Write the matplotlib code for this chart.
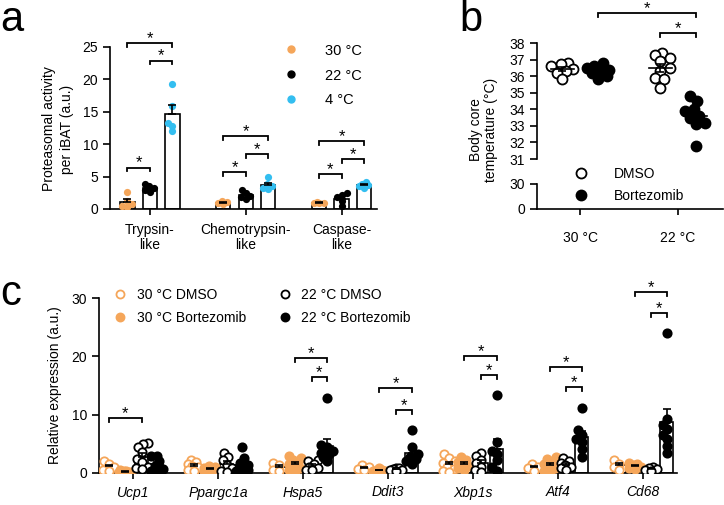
import matplotlib.pyplot as plt
import numpy as np
from matplotlib.lines import Line2D

plt.rcParams['font.family'] = ['Liberation Sans', 'DejaVu Sans']
plt.rcParams['font.size'] = 10
plt.rcParams['axes.linewidth'] = 1.2
plt.rcParams['xtick.major.width'] = 1.2
plt.rcParams['ytick.major.width'] = 1.2
plt.rcParams['xtick.major.size'] = 4
plt.rcParams['ytick.major.size'] = 5

ORANGE = '#F5A65A'
BLUE = '#33BEF0'

# panel a - proteasomal activity per iBAT
assays = ['Trypsin-\nlike', 'Chemotrypsin-\nlike', 'Caspase-\nlike']
temps_a = ['30 °C', '22 °C', '4 °C']
act_30 = [[2.6, 1.3, 0.8, 0.5, 0.3], [1.3, 1.1, 0.9, 0.7], [1.1, 1.0, 0.9, 0.9]]
act_22 = [[3.8, 3.5, 3.2, 2.9, 2.7], [2.9, 2.4, 2.0, 1.8, 1.5], [2.4, 2.1, 1.8, 1.3, 0.5]]
act_4 = [[19.3, 15.9, 13.3, 12.8, 12.0], [4.9, 3.8, 3.5, 3.3, 3.1], [4.1, 3.9, 3.7, 3.5, 3.3]]
# (assay, group i, group j, bracket height)
sig_a = [(0, 0, 2, 25.6), (0, 1, 2, 22.9), (0, 0, 1, 6.4),
         (1, 0, 2, 11.3), (1, 1, 2, 8.5), (1, 0, 1, 5.7),
         (2, 0, 2, 10.5), (2, 1, 2, 7.7), (2, 0, 1, 5.4)]

# panel b - body core temperature
temps_b = ['30 °C', '22 °C']
treat_b = ['DMSO', 'Bortezomib']
temp_dmso = [[36.8, 36.75, 36.6, 36.45, 36.3, 36.2, 35.8],
             [37.4, 37.3, 37.1, 36.9, 36.5, 36.3, 35.9, 35.8, 35.3]]
temp_btz = [[36.8, 36.6, 36.5, 36.4, 36.3, 36.2, 36.0, 35.8],
            [34.8, 34.5, 34.0, 33.9, 33.6, 33.5, 33.2, 33.1, 31.8]]
# (temp i, treat i), (temp j, treat j), height
sig_b = [((0, 1), (1, 1), 39.8), ((1, 0), (1, 1), 38.6)]

# panel c - relative expression
genes = ['Ucp1', 'Ppargc1a', 'Hspa5', 'Ddit3', 'Xbp1s', 'Atf4', 'Cd68']
groups_c = ['30 °C DMSO', '30 °C Bortezomib', '22 °C DMSO', '22 °C Bortezomib']
c_30_dmso = [[2.1, 1.5, 1.0, 0.6, 0.4],
             [2.2, 1.9, 1.6, 1.2, 1.0, 0.6, 0.3],
             [1.7, 1.4, 0.6, 0.4],
             [1.3, 1.0, 0.7, 0.5],
             [3.2, 2.6, 2.1, 1.7, 1.3, 1.0, 0.7, 0.4, 0.2],
             [1.5, 1.1, 0.8, 0.4],
             [2.2, 1.6, 1.0, 0.5]]
c_30_btz = [[0.5, 0.4, 0.3, 0.2, 0.15, 0.1, 0.1, 0.05],
            [1.2, 1.0, 0.9, 0.8, 0.7, 0.5, 0.4, 0.3],
            [2.9, 2.6, 2.2, 1.9, 1.5, 1.2, 0.9, 0.6, 0.3],
            [0.8, 0.6, 0.5, 0.4, 0.3, 0.2],
            [2.7, 2.3, 1.9, 1.5, 1.2, 0.8, 0.5],
            [2.8, 2.4, 2.0, 1.6, 1.2, 0.8, 0.4, 0.2],
            [1.8, 1.5, 1.3, 1.1, 0.9, 0.7]]
c_22_dmso = [[5.2, 4.9, 4.4, 3.6, 2.4, 1.9, 1.0, 0.8, 0.7],
             [3.5, 2.8, 2.2, 1.4, 0.8, 0.4, 0.2],
             [2.2, 2.0, 1.6, 1.0, 0.8, 0.6, 0.5],
             [0.9, 0.8, 0.7, 0.6, 0.5, 0.4],
             [3.5, 2.9, 2.3, 1.7, 1.1, 0.5, 0.1],
             [2.5, 2.1, 1.7, 1.4, 1.1, 0.8, 0.5],
             [1.1, 0.9, 0.7, 0.5, 0.3]]
c_22_btz = [[3.0, 2.9, 2.0, 1.2, 0.7, 0.4, 0.3],
            [4.5, 2.5, 1.8, 1.3, 1.0, 0.8, 0.5, 0.3, 0.2],
            [12.9, 4.8, 4.4, 3.8, 3.5, 3.2, 2.8, 2.0],
            [7.4, 4.4, 3.2, 2.8, 2.4, 2.0, 1.6],
            [13.4, 5.3, 3.7, 3.2, 2.2, 1.0, 0.4],
            [11.1, 7.3, 6.5, 5.8, 5.4, 4.2, 2.8],
            [24.0, 9.3, 8.3, 7.5, 6.6, 5.8, 4.7, 3.5]]
# (gene, group i, group j, height)
sig_c = [(0, 0, 2, 9.4), (2, 1, 3, 19.7), (2, 2, 3, 16.5),
         (3, 1, 3, 14.6), (3, 2, 3, 10.8), (4, 1, 3, 20.1), (4, 2, 3, 16.8),
         (5, 1, 3, 18.2), (5, 2, 3, 14.7), (6, 1, 3, 31.0), (6, 2, 3, 27.4)]

W, H = 724, 505
fig = plt.figure(figsize=(W / 100, H / 100), dpi=100)


def box(x0, y0, x1, y1):
    # axes from pixel corners (top-left origin)
    return fig.add_axes([x0 / W, 1 - y1 / H, (x1 - x0) / W, (y1 - y0) / H])


def sem(v):
    v = np.asarray(v, float)
    return v.std(ddof=1) / np.sqrt(len(v))


def swarm(ax, xc, vals, diam, maxw, squeeze=0.8):
    # small beeswarm, points kept within +-maxw pixels of the centre
    vals = np.asarray(vals, float)
    pts = ax.transData.transform(np.column_stack([np.full(len(vals), xc), vals]))
    d = diam * squeeze
    cand = np.linspace(-maxw, maxw, 13)
    cand = cand[np.argsort(np.abs(cand), kind='stable')]
    placed = []
    xs = np.empty(len(vals))
    for i in np.argsort(pts[:, 1]):
        y = pts[i, 1]
        best, best_d = 0.0, -1
        for dx in cand:
            md = min([np.hypot(dx - px, y - py) for px, py in placed] or [1e9])
            if md >= d:
                best = dx
                break
            if md > best_d:
                best, best_d = dx, md
        placed.append((best, y))
        xs[i] = pts[i, 0] + best
    return ax.transData.inverted().transform(np.column_stack([xs, pts[:, 1]]))[:, 0]


def bracket(ax, x0, x1, y, drop):
    ax.plot([x0, x0, x1, x1], [y - drop, y, y, y - drop], color='k', lw=1.3,
            clip_on=False, solid_joinstyle='miter')
    ax.text((x0 + x1) / 2, y, '*', ha='center', va='baseline', fontsize=12, clip_on=False)


def upper_err(ax, x, v, cap=3):
    ax.errorbar(x, np.mean(v), yerr=[[0], [sem(v)]], color='k', lw=1.2,
                capsize=cap, capthick=1.2, zorder=4)


# ---------------- panel a ----------------
ax = box(110, 47, 377, 209)
ax.set_xlim(-0.417, 2.37)
ax.set_ylim(0, 25)
off_a = [-0.235, 0, 0.235]
cols_a = [ORANGE, 'k', BLUE]
for k, data in enumerate([act_30, act_22, act_4]):
    for g in range(3):
        x = g + off_a[k]
        ax.bar(x, np.mean(data[g]), 0.15, color='white', edgecolor='k', lw=1.2, zorder=2)
        xs = swarm(ax, x, data[g], 7, 5, 0.7)
        ax.scatter(xs, data[g], s=27, color=cols_a[k], lw=0, zorder=3)
        upper_err(ax, x, data[g])
for g, i, j, h in sig_a:
    bracket(ax, g + off_a[i], g + off_a[j], h, 0.6)
ax.spines[['top', 'right']].set_visible(False)
ax.set_yticks([0, 5, 10, 15, 20, 25])
ax.set_xticks([0, 1, 2])
ax.set_xticklabels(assays, linespacing=1.1)
ax.tick_params(axis='x', pad=6)
fig.text(58 / W, 1 - 129 / H, 'Proteasomal activity\nper iBAT (a.u.)', rotation=90,
         ha='center', va='center', linespacing=1.3)
h_a = [Line2D([], [], ls='none', marker='o', ms=5, mfc=c, mec=c) for c in cols_a]
fig.legend(h_a, temps_a, loc='center left', bbox_to_anchor=(276 / W, 1 - 75.5 / H),
           frameon=False, borderpad=0, borderaxespad=0, handlelength=2,
           handletextpad=1.35, labelspacing=0.75, fontsize=10.5)

# ---------------- panel b ----------------
axt = box(537, 43, 723, 159)
axb = box(537, 184, 723, 209)
for a in (axt, axb):
    a.set_xlim(-0.44, 1.46)
axt.set_ylim(31, 38)
axb.set_ylim(0, 30)
off_b = [-0.18, 0.18]
for t in range(2):
    for k, data in enumerate([temp_dmso, temp_btz]):
        x = t + off_b[k]
        v = data[t]
        xs = swarm(axt, x, v, 10, 11, 0.85)
        face = 'white' if k == 0 else 'k'
        axt.scatter(xs, v, s=52, facecolor=face, edgecolor='k', lw=1.3, zorder=3)
        m = np.mean(v)
        axt.plot([x - 0.12, x + 0.12], [m, m], color='k', lw=1.2, zorder=4)
        axt.errorbar(x, m, yerr=sem(v), color='k', lw=1.2, capsize=3, capthick=1.2, zorder=4)
for (t0, k0), (t1, k1), h in sig_b:
    bracket(axt, t0 + off_b[k0], t1 + off_b[k1], h, 0.25)
axt.spines[['top', 'right', 'bottom']].set_visible(False)
axt.set_xticks([])
axt.set_yticks(range(31, 39))
axb.spines[['top', 'right']].set_visible(False)
axb.set_yticks([0, 30])
axb.set_xticks([0, 1])
axb.set_xticklabels(temps_b)
axb.tick_params(axis='x', pad=12)
fig.text(483.5 / W, 1 - 130 / H, 'Body core\ntemperature (°C)', rotation=90,
         ha='center', va='center', linespacing=1.05)
h_b = [Line2D([], [], ls='none', marker='o', ms=7.2, mfc=f, mec='k', mew=1.3)
       for f in ('white', 'k')]
fig.legend(h_b, treat_b, loc='center left', bbox_to_anchor=(567 / W, 1 - 185 / H),
           frameon=False, borderpad=0, borderaxespad=0, handlelength=2,
           handletextpad=1.4, labelspacing=0.6)

# ---------------- panel c ----------------
axc = box(99, 298, 677, 473)
axc.set_xlim(-0.4, 6.4)
axc.set_ylim(0, 30)
off_c = [-0.28, -0.1, 0.1, 0.28]
col_c = [ORANGE, ORANGE, 'k', 'k']
filled_c = [False, True, False, True]
for k, data in enumerate([c_30_dmso, c_30_btz, c_22_dmso, c_22_btz]):
    for g in range(len(genes)):
        x = g + off_c[k]
        v = data[g]
        axc.bar(x, np.mean(v), 0.15, color='white', edgecolor='k', lw=1.2, zorder=2)
        xs = swarm(axc, x, v, 8, 6, 0.7)
        face = col_c[k] if filled_c[k] else 'white'
        axc.scatter(xs, v, s=36, facecolor=face, edgecolor=col_c[k], lw=1.3, zorder=3)
        upper_err(axc, x, v)
for g, i, j, h in sig_c:
    bracket(axc, g + off_c[i], g + off_c[j], h, 0.7)
axc.spines[['top', 'right']].set_visible(False)
axc.set_yticks([0, 10, 20, 30])
axc.set_xticks(range(len(genes)))
axc.set_xticklabels(genes, style='italic')
axc.tick_params(axis='x', pad=5)
fig.text(55 / W, 1 - 385 / H, 'Relative expression (a.u.)', rotation=90,
         ha='center', va='center')
h_c = [Line2D([], [], ls='none', marker='o', ms=5.8, mfc=(c if f else 'white'),
              mec=c, mew=1.3) for c, f in zip(col_c, filled_c)]
fig.legend(h_c, groups_c, ncol=2, loc='center left', bbox_to_anchor=(113 / W, 1 - 306.5 / H),
           frameon=False, borderpad=0, borderaxespad=0, handlelength=1,
           handletextpad=0.7, columnspacing=2.3, labelspacing=0.65)

# panel letters
fig.text(0, 1 - 31 / H, 'a', fontsize=30, va='baseline')
fig.text(459 / W, 1 - 31 / H, 'b', fontsize=30, va='baseline')
fig.text(0, 1 - 305 / H, 'c', fontsize=30, va='baseline')

fig.savefig('out.png', dpi=100)
